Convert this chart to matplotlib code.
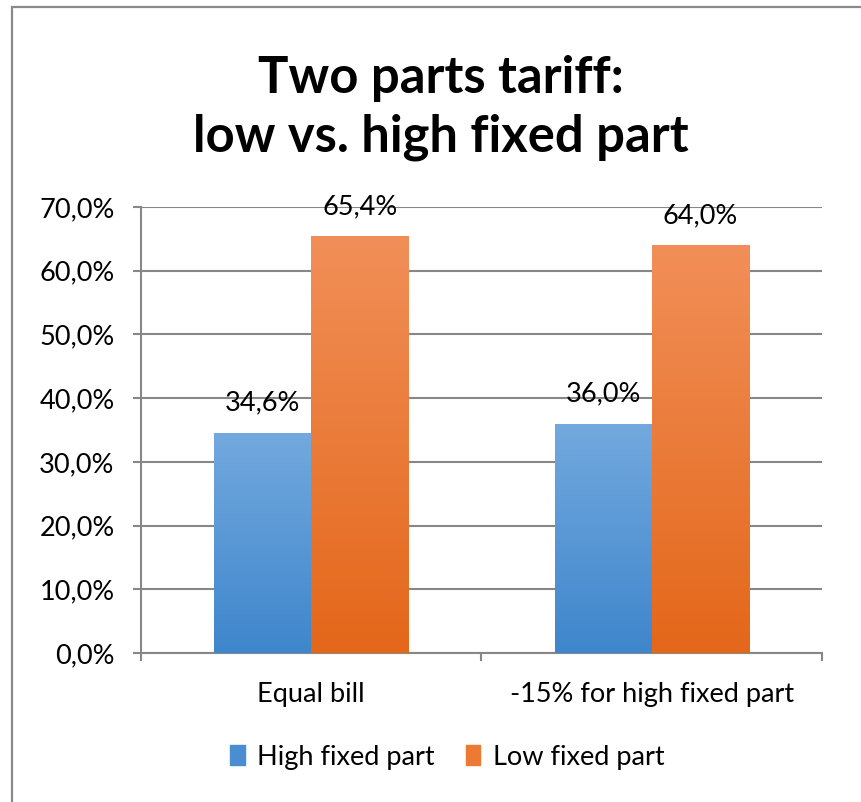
import matplotlib
matplotlib.use("Agg")
import matplotlib.pyplot as plt
import numpy as np
from matplotlib.patches import Rectangle
from matplotlib.colors import LinearSegmentedColormap

plt.rcParams['font.family'] = ['Lato', 'DejaVu Sans']

categories = ["Equal bill", "-15% for high fixed part"]
series_names = ["High fixed part", "Low fixed part"]
high_fixed = [34.6, 36.0]
low_fixed = [65.4, 64.0]
y_ticks = [0, 10, 20, 30, 40, 50, 60, 70]
title = "Two parts tariff:\nlow vs. high fixed part"

grad_colors = [("#3f86cc", "#73a9de"), ("#e4671a", "#f18f58")]
legend_colors = ["#4a8dd0", "#ec7a33"]
grid_col = "#878787"
FS = 19.5

W, H = 862, 802
fig = plt.figure(figsize=(W / 100, H / 100), dpi=100)
ax = fig.add_axes([141 / W, 1 - 653 / H, (822 - 141) / W, (653 - 207) / H])

# figure border
fig.patches.append(Rectangle((12 / W, -0.1), 1.2, 1 - 7 / H + 0.1, transform=fig.transFigure,
                             fill=False, edgecolor="#8a8a8a", linewidth=1.6, zorder=0))

x = np.arange(len(categories))
bw = 0.285
series = [high_fixed, low_fixed]
offsets = [-bw / 2, bw / 2]
ax.set_xlim(-0.5, len(categories) - 0.5)
ax.set_ylim(0, 70)

for si, (vals, off) in enumerate(zip(series, offsets)):
    bars = ax.bar(x + off, vals, bw, color="none", edgecolor="none", zorder=3)
    cmap = LinearSegmentedColormap.from_list("g", list(grad_colors[si]))
    grad = np.linspace(0, 1, 256).reshape(-1, 1)
    for b, v in zip(bars, vals):
        x0, y0 = b.get_x(), b.get_y()
        im = ax.imshow(grad, extent=[x0, x0 + b.get_width(), y0, y0 + b.get_height()],
                       origin="lower", aspect="auto", cmap=cmap, zorder=3,
                       interpolation="bicubic")
        im.set_clip_path(b)
        ax.annotate(f"{v:.1f}%".replace(".", ","), (x0 + b.get_width() / 2, v),
                    xytext=(0, 22), textcoords="offset pixels", ha="center",
                    va="baseline", fontsize=FS, color="black", zorder=5)

ax.set_xlim(-0.5, len(categories) - 0.5)
ax.set_ylim(0, 70)
ax.set_yticks(y_ticks)
ax.set_yticklabels([f"{t:.1f}%".replace(".", ",") for t in y_ticks], fontsize=FS)
ax.yaxis.grid(True, color=grid_col, linewidth=1.5, zorder=0)
ax.set_axisbelow(True)

ax.set_xticks(x)
ax.set_xticklabels(categories, fontsize=FS)
ax.set_xticks([-0.5, 0.5, 1.5], minor=True)
ax.tick_params(axis="x", which="major", length=0, pad=21)
ax.tick_params(axis="x", which="minor", length=6, width=1.5, color=grid_col, direction="out")
ax.tick_params(axis="y", length=6, width=1.5, color=grid_col, direction="out", pad=13)

for s in ["top", "right"]:
    ax.spines[s].set_visible(False)
for s in ["left", "bottom"]:
    ax.spines[s].set_color(grid_col)
    ax.spines[s].set_linewidth(1.5)

fig.text(441 / W, 1 - 108 / H, title, ha="center", va="center", fontsize=36.5,
         fontweight="bold", linespacing=1.3)

handles = [Rectangle((0, 0), 1, 1, color=c) for c in legend_colors]
fig.legend(handles, series_names, loc="center", bbox_to_anchor=(447 / W, 1 - 757 / H),
           ncol=2, frameon=False, fontsize=FS, handlelength=0.55, handleheight=0.8,
           handletextpad=0.45, columnspacing=1.15)

fig.savefig("out.png", dpi=100)
